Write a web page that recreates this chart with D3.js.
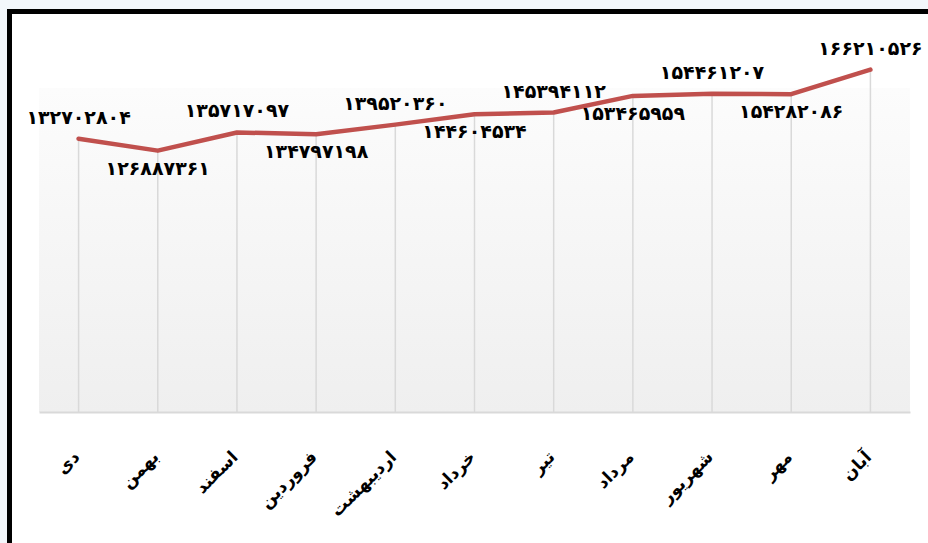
<!DOCTYPE html>
<html><head><meta charset="utf-8">
<script src="https://cdn.jsdelivr.net/npm/d3@7"></script>
<style>
html,body{margin:0;padding:0;background:#f3f7fb;}
svg{display:block;}
</style></head>
<body>
<svg id="c" width="928" height="543"></svg>
<script>
const months = ["دی","بهمن","اسفند","فروردین","اردیبهشت","خرداد","تیر","مرداد","شهریور","مهر","آبان"];
const values = [132702804,126887361,135717097,134797198,139520360,144604534,145394112,153465959,154461207,154282086,166210526];
const labelSide = ["above","below","above","below","above","below","above","below","above","below","above"];

const toFa = n => String(n).replace(/\d/g, d => "۰۱۲۳۴۵۶۷۸۹"[+d]);

const svg = d3.select("#c");
const plot = {left: 39, right: 910, top: 88, bottom: 412};

// frame
svg.append("rect").attr("x", 9.5).attr("y", 11.5).attr("width", 1000).attr("height", 1000)
  .attr("fill", "#ffffff").attr("stroke", "#000").attr("stroke-width", 5);

const defs = svg.append("defs");
const g = defs.append("linearGradient").attr("id","pg").attr("x1",0).attr("y1",0).attr("x2",0).attr("y2",1);
g.append("stop").attr("offset","0%").attr("stop-color","#fcfcfc");
g.append("stop").attr("offset","100%").attr("stop-color","#efefef");

svg.append("rect").attr("x", plot.left).attr("y", plot.top)
  .attr("width", plot.right - plot.left).attr("height", plot.bottom - plot.top)
  .attr("fill", "url(#pg)");

const x = d3.scaleBand().domain(months).range([plot.left, plot.right]).paddingInner(0).paddingOuter(0);
const y = d3.scaleLinear().domain([0, 157.3e6]).range([plot.bottom, plot.top]);
const cx = m => x(m) + x.bandwidth()/2;

// drop lines
svg.append("g").selectAll("line").data(months).join("line")
  .attr("x1", m => cx(m)).attr("x2", m => cx(m))
  .attr("y1", (m,i) => y(values[i])).attr("y2", plot.bottom)
  .attr("stroke", "#d9d9d9").attr("stroke-width", 1.5);

// x axis
const xAxis = d3.axisBottom(x).tickSize(0).tickPadding(0);
const ax = svg.append("g").attr("transform", `translate(0,${plot.bottom})`).call(xAxis);
ax.select(".domain").attr("stroke", "#d9d9d9").attr("stroke-width", 2);
ax.selectAll(".tick text")
  .attr("font-family", "'DejaVu Sans', sans-serif")
  .attr("font-size", 17).attr("font-weight", "bold").attr("fill", "#000")
  .attr("text-anchor", "end")
  .attr("transform", "translate(-7,37) rotate(-45)")
  .attr("dy", "0.75em").attr("y", 0).attr("x", 0);

// line
const line = d3.line().x((d,i) => cx(months[i])).y(d => y(d));
svg.append("path").datum(values).attr("d", line)
  .attr("fill","none").attr("stroke","#c0504d").attr("stroke-width",4.5)
  .attr("stroke-linejoin","round").attr("stroke-linecap","round");

// data labels
svg.append("g").selectAll("text").data(values).join("text")
  .attr("x", (d,i) => cx(months[i]))
  .attr("y", (d,i) => labelSide[i] === "above" ? y(d) - 22 : y(d) + 17)
  .attr("text-anchor","middle").attr("dominant-baseline","central")
  .attr("font-family", "'DejaVu Sans', sans-serif")
  .attr("font-size", 19).attr("font-weight","bold").attr("fill","#000")
  .text(d => toFa(d));
</script>
</body></html>
